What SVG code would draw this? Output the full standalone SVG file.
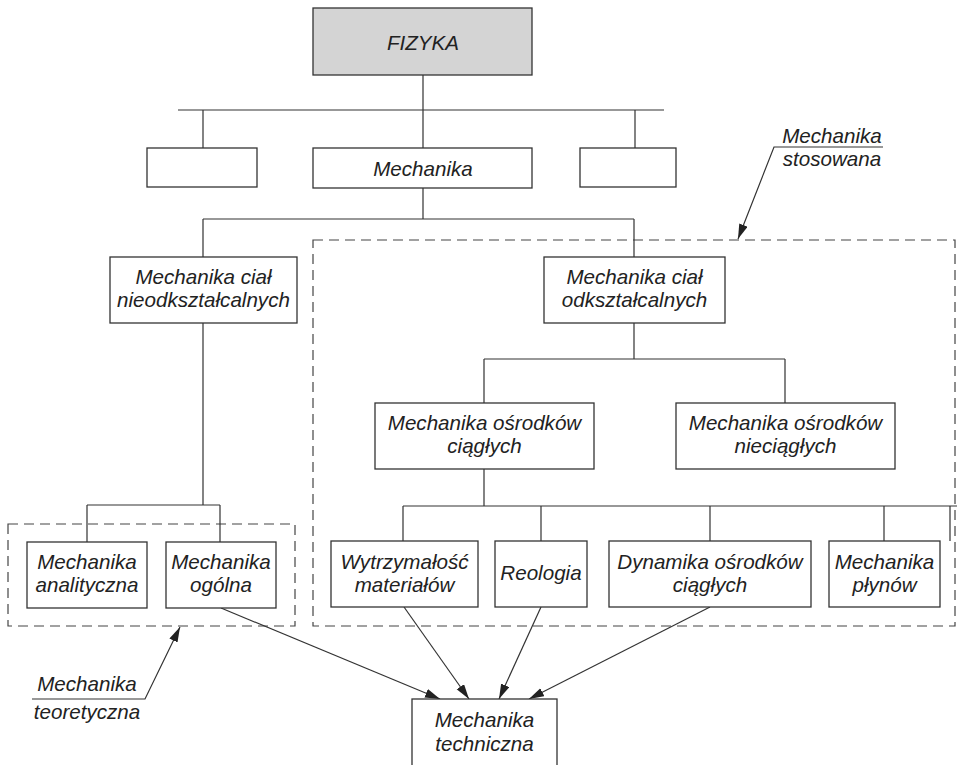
<svg xmlns="http://www.w3.org/2000/svg" width="957" height="765" viewBox="0 0 957 765">
<defs>
<style>
.box{fill:#fff;stroke:#333;stroke-width:1.3}
.grey{fill:#d4d4d4}
.ln{fill:none;stroke:#333;stroke-width:1.2}
.dash{fill:none;stroke:#444;stroke-width:1.2;stroke-dasharray:10 6}
.t{font-family:"Liberation Sans",Arial,sans-serif;font-style:italic;font-size:20.6px;fill:#222;text-anchor:middle}
</style>
<marker id="ah" markerUnits="userSpaceOnUse" markerWidth="16" markerHeight="10" refX="15" refY="4.5" orient="auto">
<path d="M0,0 L15,4.5 L0,9 Z" fill="#222"/>
</marker>
</defs>
<rect width="957" height="765" fill="#fff"/>

<g id="groups">
<rect class="dash" x="313" y="240" width="642" height="386"/>
<rect class="dash" x="8" y="524" width="287" height="102"/>
</g>

<g id="connectors">
<path class="ln" d="M423,75 V110 M178,110 H664 M203,110 V148 M423,110 V148 M635,110 V148"/>
<path class="ln" d="M423,188 V219 M203,219 H634 M203,219 V257 M634,219 V257"/>
<path class="ln" d="M203,323 V505 M87,505 H220 M87,505 V542 M220,505 V542"/>
<path class="ln" d="M634,323 V359 M484,359 H785 M484,359 V403 M785,359 V403"/>
<path class="ln" d="M484,469 V506 M403,506 H957 M403,506 V541 M541,506 V541 M710,506 V541 M884,506 V541 M950,506 V541"/>
<path class="ln" d="M221,608 L440,699" marker-end="url(#ah)"/>
<path class="ln" d="M404,607 L469,699" marker-end="url(#ah)"/>
<path class="ln" d="M541,607 L499,699" marker-end="url(#ah)"/>
<path class="ln" d="M710,607 L529,699" marker-end="url(#ah)"/>
<path class="ln" d="M883,147 H774 L738,239" marker-end="url(#ah)"/>
<path class="ln" d="M32,699 H145 L180,627" marker-end="url(#ah)"/>
</g>

<g id="fizyka"><rect class="box grey" x="313" y="8" width="219" height="67"/><text class="t" x="423" y="50">FIZYKA</text></g>
<g id="blank-left"><rect class="box" x="147" y="148" width="110" height="39"/></g>
<g id="mechanika"><rect class="box" x="313" y="148" width="219" height="40"/><text class="t" x="423" y="176">Mechanika</text></g>
<g id="blank-right"><rect class="box" x="580" y="148" width="96" height="39"/></g>

<g id="mc-nieodksztalcalnych"><rect class="box" x="110" y="257" width="187" height="66"/><text class="t" x="203.5" y="284">Mechanika ciał</text><text class="t" x="203.5" y="307">nieodkształcalnych</text></g>
<g id="mc-odksztalcalnych"><rect class="box" x="544" y="257" width="181" height="66"/><text class="t" x="634.5" y="284">Mechanika ciał</text><text class="t" x="634.5" y="307">odkształcalnych</text></g>

<g id="mo-ciaglych"><rect class="box" x="375" y="403" width="219" height="66"/><text class="t" x="484.5" y="429.5">Mechanika ośrodków</text><text class="t" x="484.5" y="452.5">ciągłych</text></g>
<g id="mo-nieciaglych"><rect class="box" x="676" y="403" width="219" height="66"/><text class="t" x="785.5" y="429.5">Mechanika ośrodków</text><text class="t" x="785.5" y="452.5">nieciągłych</text></g>

<g id="m-analityczna"><rect class="box" x="27" y="542" width="120" height="66"/><text class="t" x="87" y="569">Mechanika</text><text class="t" x="87" y="592">analityczna</text></g>
<g id="m-ogolna"><rect class="box" x="166" y="542" width="110" height="66"/><text class="t" x="221" y="569">Mechanika</text><text class="t" x="221" y="592">ogólna</text></g>

<g id="wytrzymalosc"><rect class="box" x="331" y="541" width="147" height="66"/><text class="t" x="404.5" y="569">Wytrzymałość</text><text class="t" x="404.5" y="592">materiałów</text></g>
<g id="reologia"><rect class="box" x="495" y="541" width="92" height="66"/><text class="t" x="541" y="580">Reologia</text></g>
<g id="dynamika"><rect class="box" x="609" y="541" width="202" height="66"/><text class="t" x="710" y="569">Dynamika ośrodków</text><text class="t" x="710" y="592">ciągłych</text></g>
<g id="m-plynow"><rect class="box" x="829" y="541" width="111" height="66"/><text class="t" x="884.5" y="569">Mechanika</text><text class="t" x="884.5" y="592">płynów</text></g>

<g id="m-techniczna"><rect class="box" x="412" y="699" width="145" height="80"/><text class="t" x="484.5" y="727">Mechanika</text><text class="t" x="484.5" y="751">techniczna</text></g>

<g id="label-stosowana"><text class="t" x="832" y="143">Mechanika</text><text class="t" x="832" y="166">stosowana</text></g>
<g id="label-teoretyczna"><text class="t" x="87" y="691">Mechanika</text><text class="t" x="87" y="719">teoretyczna</text></g>
</svg>
